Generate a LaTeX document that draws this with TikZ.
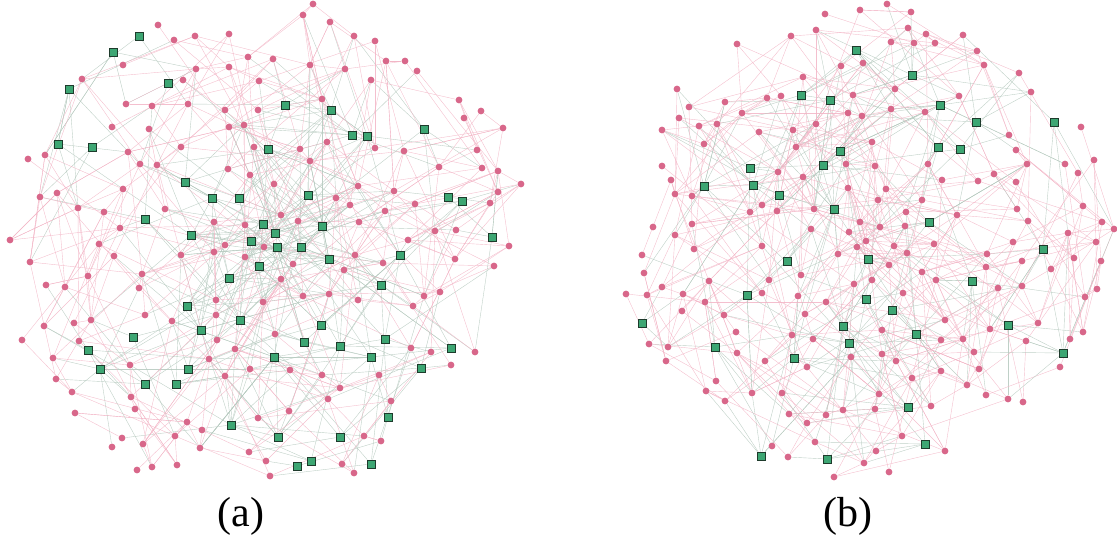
\documentclass[tikz,border=0pt]{standalone}
\usepackage{fontspec}
\setmainfont{Liberation Serif}
\usepackage{tikz}
\usetikzlibrary{backgrounds}

\definecolor{dotpink}{HTML}{D8678A}
\definecolor{linkpink}{HTML}{F2B4C5}
\definecolor{boxgreen}{HTML}{3DA673}
\definecolor{boxline}{HTML}{1E3B2C}
\definecolor{linkgray}{HTML}{B4C8BD}

% node positions, left network
\newcommand{\leftsquares}{139/36, 113/52, 69/89, 168/83, 58/144, 92/147, 285/105, 331/110, 352/135, 367/136, 424/129, 268/149, 185/182, 212/198, 239/198, 308/195, 448/197, 462/201, 145/219, 191/235, 263/224, 275/233, 251/241, 277/247, 301/247, 322/226, 492/237, 329/259, 400/255, 259/266, 229/278, 381/285, 187/306, 240/320, 321/325, 201/330, 133/337, 304/342, 340/346, 385/339, 451/348, 88/350, 371/357, 274/357, 100/369, 188/369, 421/368, 145/384, 176/384, 231/425, 388/417, 278/437, 340/437, 297/466, 311/461, 371/464}
\newcommand{\leftdots}{313/4, 303/15, 330/22, 158/25, 229/34, 195/36, 354/36, 375/41, 174/40, 248/57, 273/59, 386/61, 405/61, 123/65, 310/65, 229/67, 196/69, 345/69, 417/71, 82/79, 183/80, 259/81, 371/80, 322/99, 459/100, 126/104, 152/106, 188/104, 225/110, 258/110, 481/111, 464/118, 112/127, 149/129, 229/127, 244/125, 503/128, 327/142, 254/147, 300/149, 181/147, 375/148, 404/151, 477/150, 28/159, 45/155, 128/152, 140/164, 157/165, 228/169, 250/175, 310/161, 439/167, 482/168, 498/171, 521/184, 274/184, 358/186, 123/189, 40/197, 57/193, 394/191, 336/198, 350/205, 415/204, 490/203, 498/192, 78/208, 104/212, 165/209, 385/211, 120/228, 214/222, 245/225, 281/215, 298/221, 359/222, 435/231, 456/230, 10/240, 99/244, 225/245, 264/247, 408/240, 509/246, 181/255, 214/252, 245/257, 293/264, 355/255, 30/262, 114/256, 455/259, 383/263, 344/270, 494/266, 88/276, 142/274, 281/279, 46/285, 65/287, 139/288, 303/296, 329/294, 358/300, 424/296, 440/292, 216/300, 263/302, 413/306, 145/315, 216/315, 172/321, 44/326, 74/323, 91/320, 275/334, 22/340, 79/341, 217/340, 235/349, 411/348, 431/352, 475/352, 53/358, 209/359, 130/365, 250/369, 290/370, 56/379, 225/376, 322/375, 379/375, 451/365, 72/392, 340/388, 131/397, 328/399, 391/401, 135/409, 75/413, 289/411, 258/418, 187/422, 202/430, 175/436, 122/438, 112/447, 143/444, 200/448, 364/436, 381/441, 249/452, 266/461, 137/470, 152/467, 177/465, 342/464, 354/473, 270/476}

% node positions, right network
\newcommand{\rightsquares}{856/50, 912/75, 801/95, 830/100, 940/105, 976/122, 1054/122, 840/151, 938/147, 960/149, 823/165, 750/168, 704/186, 753/185, 779/195, 834/209, 929/222, 1043/249, 787/261, 868/259, 972/281, 747/295, 866/299, 892/310, 642/323, 843/326, 1008/325, 916/334, 849/343, 715/347, 794/358, 1063/353, 908/407, 925/444, 761/456, 827/459}
\newcommand{\rightdots}{887/4, 860/10, 911/12, 825/14, 908/28, 816/30, 926/34, 963/35, 791/36, 914/43, 935/43, 891/42, 737/44, 977/51, 863/63, 841/66, 984/65, 803/77, 1019/73, 895/89, 677/89, 1031/92, 853/95, 767/98, 781/96, 959/96, 725/102, 689/107, 891/109, 925/112, 848/113, 862/116, 742/113, 679/118, 699/126, 717/124, 816/124, 793/130, 1081/127, 662/130, 759/132, 1009/135, 872/142, 704/144, 796/147, 1016/150, 846/164, 875/166, 928/164, 1027/164, 1065/164, 1094/160, 662/166, 778/172, 803/177, 994/174, 1078/173, 671/180, 942/180, 978/181, 1016/182, 848/188, 886/189, 675/194, 692/196, 878/200, 922/200, 762/205, 777/211, 750/212, 814/209, 1017/209, 1083/206, 906/212, 957/215, 1028/221, 1102/222, 1114/229, 860/222, 811/229, 880/227, 905/226, 849/232, 653/227, 675/235, 692/224, 866/241, 1013/242, 1068/233, 1096/242, 762/246, 857/247, 894/246, 934/244, 694/249, 838/254, 907/253, 987/254, 642/255, 1022/261, 1074/258, 1101/261, 889/265, 986/267, 1051/269, 644/273, 801/275, 922/272, 769/280, 709/281, 872/280, 936/280, 854/284, 662/287, 998/288, 1022/286, 1097/289, 626/294, 647/295, 683/294, 762/293, 798/296, 826/302, 903/293, 705/302, 1085/297, 805/314, 682/311, 724/315, 945/320, 1038/323, 736/332, 882/330, 990/329, 1083/332, 792/335, 813/339, 941/340, 963/339, 1026/341, 1070/339, 649/344, 668/347, 737/353, 882/354, 974/352, 851/357, 666/361, 765/361, 896/361, 807/367, 941/371, 979/369, 1060/367, 912/378, 716/381, 967/385, 706/391, 752/393, 782/393, 879/394, 986/395, 1008/399, 1023/402, 725/401, 931/406, 843/410, 875/409, 789/414, 826/415, 807/423, 902/436, 815/442, 772/446, 876/451, 945/451, 788/457, 864/463, 889/472, 834/477}

\begin{document}
\begin{tikzpicture}[x=1pt,y=-1pt]
\tikzset{dot/.style = {shape=circle,fill=dotpink,inner sep=0pt,minimum size=6.8pt}}
\tikzset{box/.style = {shape=rectangle,fill=boxgreen,draw=boxline,line width=0.7pt,inner sep=0pt,minimum size=8pt}}
\tikzset{pinklink/.style = {draw=linkpink,line width=0.4pt,opacity=0.85}}
\tikzset{graylink/.style = {draw=linkgray,line width=0.4pt,opacity=0.85}}
\tikzset{caption/.style = {font=\fontsize{42}{48}\selectfont}}
\useasboundingbox (0,0) rectangle (1117,544);

% left network
\foreach \x/\y [count=\i] in \leftsquares {
  \node[box] (a\i) at (\x,\y) {};
  \expandafter\xdef\csname ax\i\endcsname{\x}
  \expandafter\xdef\csname ay\i\endcsname{\y}
  \xdef\nsqa{\i}
}
\foreach \x/\y [count=\k] in \leftdots {
  \pgfmathtruncatemacro{\i}{\k+\nsqa}
  \node[dot] (a\i) at (\x,\y) {};
  \expandafter\xdef\csname ax\i\endcsname{\x}
  \expandafter\xdef\csname ay\i\endcsname{\y}
  \xdef\nalla{\i}
}
\begin{scope}[on background layer]
\pgfmathsetseed{11}
\foreach \i in {1,...,\nalla} {
  \foreach \t in {1,...,16} {
    \pgfmathrandominteger{\j}{1}{\nalla}
    \edef\dx{\csname ax\i\endcsname-\csname ax\j\endcsname}
    \edef\dy{\csname ay\i\endcsname-\csname ay\j\endcsname}
    \pgfmathsetmacro{\d}{veclen(\dx,\dy)}
    \ifdim\d pt<135pt \ifnum\i=\j\else
      \ifnum\i>\nsqa \ifnum\j>\nsqa
        \draw[pinklink] (a\i) -- (a\j);
      \else
        \draw[graylink] (a\i) -- (a\j);
      \fi \else
        \draw[graylink] (a\i) -- (a\j);
      \fi
    \fi \fi
  }
}
\end{scope}

% right network
\foreach \x/\y [count=\i] in \rightsquares {
  \node[box] (b\i) at (\x,\y) {};
  \expandafter\xdef\csname bx\i\endcsname{\x}
  \expandafter\xdef\csname by\i\endcsname{\y}
  \xdef\nsqb{\i}
}
\foreach \x/\y [count=\k] in \rightdots {
  \pgfmathtruncatemacro{\i}{\k+\nsqb}
  \node[dot] (b\i) at (\x,\y) {};
  \expandafter\xdef\csname bx\i\endcsname{\x}
  \expandafter\xdef\csname by\i\endcsname{\y}
  \xdef\nallb{\i}
}
\begin{scope}[on background layer]
\pgfmathsetseed{23}
\foreach \i in {1,...,\nallb} {
  \foreach \t in {1,...,14} {
    \pgfmathrandominteger{\j}{1}{\nallb}
    \edef\dx{\csname bx\i\endcsname-\csname bx\j\endcsname}
    \edef\dy{\csname by\i\endcsname-\csname by\j\endcsname}
    \pgfmathsetmacro{\d}{veclen(\dx,\dy)}
    \ifdim\d pt<135pt \ifnum\i=\j\else
      \ifnum\i>\nsqb \ifnum\j>\nsqb
        \draw[pinklink] (b\i) -- (b\j);
      \else
        \draw[graylink] (b\i) -- (b\j);
      \fi \else
        \draw[graylink] (b\i) -- (b\j);
      \fi
    \fi \fi
  }
}
\end{scope}

\node[caption] (capa) at (241,516) {(a)};
\node[caption] (capb) at (848,516) {(b)};
\end{tikzpicture}
\end{document}
